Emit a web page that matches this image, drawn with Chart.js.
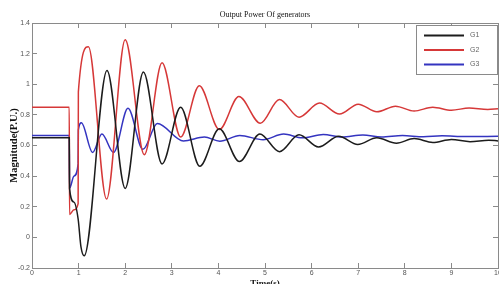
<!DOCTYPE html>
<html>
<head>
<meta charset="utf-8">
<script src="https://cdn.jsdelivr.net/npm/chart.js@4.4.1/dist/chart.umd.min.js"></script>
<style>
html, body { margin: 0; padding: 0; background: #fff; overflow: hidden; }
</style>
</head>
<body>
<canvas id="chart" width="499" height="284"></canvas>
<script>

// Values (time in s, power in P.U.)
const seriesNames = ['G1', 'G2', 'G3']

const g1Time  = [0, 0.8, 0.805, 0.9, 0.99, 1.05, 1.12, 1.61, 2.0, 2.39, 2.79, 3.19, 3.6, 4.02, 4.45, 4.89, 5.31, 5.73, 6.15, 6.58, 6.99, 7.4, 7.82, 8.2, 8.6, 9.0, 9.4, 9.8, 10]
const g1Power = [0.65, 0.65, 0.32, 0.23, 0.12, -0.06, -0.12, 1.09, 0.32, 1.08, 0.48, 0.85, 0.465, 0.71, 0.495, 0.675, 0.56, 0.67, 0.59, 0.66, 0.607, 0.65, 0.615, 0.645, 0.62, 0.64, 0.625, 0.635, 0.63]

const g2Time  = [0, 0.8, 0.805, 0.9, 0.99, 0.995, 1.21, 1.6, 2.0, 2.41, 2.79, 3.19, 3.59, 4.02, 4.44, 4.9, 5.31, 5.73, 6.17, 6.6, 7.0, 7.4, 7.8, 8.2, 8.6, 9.0, 9.38, 9.78, 10]
const g2Power = [0.85, 0.85, 0.15, 0.18, 0.22, 0.95, 1.245, 0.25, 1.29, 0.54, 1.14, 0.655, 0.99, 0.705, 0.92, 0.745, 0.9, 0.785, 0.877, 0.805, 0.87, 0.82, 0.857, 0.825, 0.85, 0.83, 0.845, 0.835, 0.84]

const g3Time  = [0, 0.8, 0.805, 0.9, 0.99, 0.995, 1.06, 1.3, 1.5, 1.75, 2.06, 2.38, 2.69, 3.25, 3.7, 4.03, 4.46, 4.96, 5.4, 5.8, 6.25, 6.65, 7.1, 7.5, 7.95, 8.4, 8.8, 9.3, 10]
const g3Power = [0.665, 0.665, 0.32, 0.4, 0.48, 0.7, 0.748, 0.555, 0.675, 0.555, 0.843, 0.575, 0.744, 0.63, 0.655, 0.628, 0.665, 0.638, 0.675, 0.65, 0.672, 0.655, 0.668, 0.656, 0.665, 0.657, 0.663, 0.658, 0.66]

const lineColors = ['#1c1c1c', '#d63838', '#3434c0']

const xTicksMin = 0, xTicksMax = 10, xStep = 1
const yTicksMin = -0.2, yTicksMax = 1.4, yStep = 0.2

function toPoints(times, values) {
    return times.map((t, i) => ({ x: t, y: values[i] }))
}

const allSeries = [
    toPoints(g1Time, g1Power),
    toPoints(g2Time, g2Power),
    toPoints(g3Time, g3Power)
]

// legend box drawn inside the plot, top right
const boxLegend = {
    id: 'boxLegend',
    afterDraw(chart) {
        const ctx = chart.ctx
        const area = chart.chartArea
        const w = 82, h = 50
        const left = area.right - w, top = area.top + 2
        ctx.save()
        ctx.fillStyle = '#fff'
        ctx.fillRect(left, top, w, h)
        ctx.strokeStyle = '#8a8a8a'
        ctx.lineWidth = 1
        ctx.strokeRect(left + 0.5, top + 0.5, w - 1, h - 1)
        ctx.font = '7px "Liberation Sans"'
        ctx.textBaseline = 'middle'
        chart.data.datasets.forEach((ds, i) => {
            const y = top + 10.5 + i * 14.5
            ctx.strokeStyle = ds.borderColor
            ctx.lineWidth = 2
            ctx.beginPath()
            ctx.moveTo(left + 8, y)
            ctx.lineTo(left + 48, y)
            ctx.stroke()
            ctx.fillStyle = '#666'
            ctx.fillText(ds.label, left + 54, y)
        })
        ctx.restore()
    }
}

const tickFont = { family: 'Liberation Sans', size: 7 }
const gridStyle = {
    drawOnChartArea: false,
    tickLength: -5,
    color: '#8a8a8a'
}
const borderStyle = { color: '#8a8a8a', width: 1 }
const tidyLabel = v => String(+Number(v).toFixed(1))

const canvas = document.getElementById('chart')
const myChart = new Chart(canvas, {
    type: 'line',
    data: {
        datasets: allSeries.map((pts, i) => ({
            label: seriesNames[i],
            data: pts,
            borderColor: lineColors[i],
            backgroundColor: lineColors[i],
            borderWidth: 1.5,
            pointRadius: 0,
            cubicInterpolationMode: 'monotone',
            fill: false
        }))
    },
    options: {
        responsive: false,
        animation: false,
        layout: { padding: { left: 0, right: 1, top: 0, bottom: 0 } },
        plugins: {
            legend: { display: false },
            tooltip: { enabled: false },
            title: {
                display: true,
                text: 'Output Power Of generators',
                fullSize: false,
                color: '#111',
                font: { family: 'Liberation Serif', size: 8, weight: 'normal' },
                padding: { top: 10, bottom: 3.4 }
            }
        },
        scales: {
            x: {
                type: 'linear',
                position: 'bottom',
                min: xTicksMin,
                max: xTicksMax,
                ticks: { stepSize: xStep, color: '#555', font: tickFont, padding: 6, maxRotation: 0, autoSkip: false, callback: tidyLabel },
                grid: gridStyle,
                border: borderStyle,
                title: {
                    display: true,
                    text: 'Time(s)',
                    color: '#111',
                    font: { family: 'Liberation Serif', size: 9, weight: 'bold' },
                    padding: { top: 0, bottom: -5 }
                },
                afterFit(scale) {
                    scale.height = 16
                    scale.paddingLeft = 0
                    scale.paddingRight = 0
                }
            },
            x2: {
                type: 'linear',
                axis: 'x',
                position: 'top',
                min: xTicksMin,
                max: xTicksMax,
                ticks: { stepSize: xStep, display: false },
                grid: gridStyle,
                border: borderStyle,
                afterFit(scale) {
                    scale.height = 0
                    scale.paddingLeft = 0
                    scale.paddingRight = 0
                }
            },
            y: {
                type: 'linear',
                position: 'left',
                min: yTicksMin,
                max: yTicksMax,
                ticks: { stepSize: yStep, color: '#555', font: tickFont, padding: 7, callback: tidyLabel },
                grid: gridStyle,
                border: borderStyle,
                title: {
                    display: true,
                    text: 'Magnitude(P.U.)',
                    color: '#111',
                    font: { family: 'Liberation Serif', size: 10.5, weight: 'bold' },
                    padding: { top: 8, bottom: 0 }
                },
                afterFit(scale) {
                    scale.width = 32
                    scale.paddingTop = 0
                    scale.paddingBottom = 0
                }
            },
            y2: {
                type: 'linear',
                axis: 'y',
                position: 'right',
                min: yTicksMin,
                max: yTicksMax,
                ticks: { stepSize: yStep, display: false },
                grid: gridStyle,
                border: borderStyle,
                afterFit(scale) {
                    scale.width = 0
                    scale.paddingTop = 0
                    scale.paddingBottom = 0
                }
            }
        }
    },
    plugins: [boxLegend]
})

</script>
</body>
</html>
